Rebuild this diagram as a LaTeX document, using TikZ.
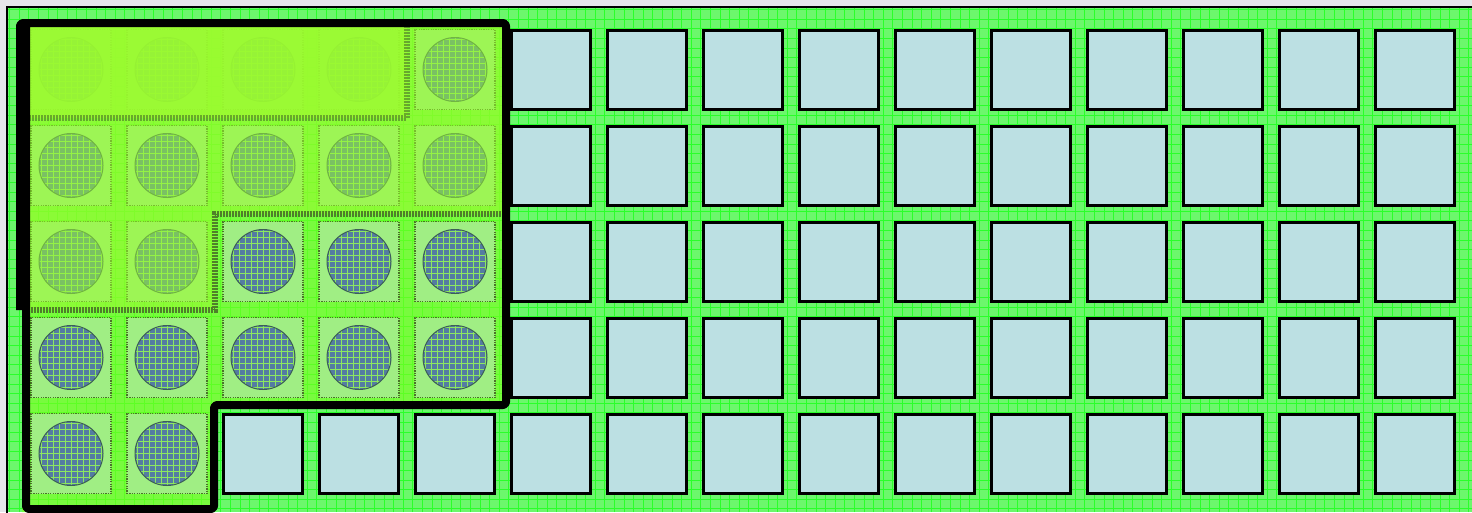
\documentclass[tikz,border=0pt]{standalone}
\usepackage{xcolor}
\usepackage{tikz}
\usetikzlibrary{calc}
\definecolor{cPage}{HTML}{E6E6EA}
\definecolor{cBoardF}{HTML}{6CF76C}
\definecolor{cBoardG}{HTML}{2AFF2A}
\definecolor{cCellF}{HTML}{BCE0E3}
\definecolor{cZoneF}{HTML}{80FF20}
\definecolor{cHiF}{HTML}{A0EE84}
\definecolor{cHiL}{HTML}{4A7328}
\definecolor{cDiscF}{HTML}{547CA2}
\definecolor{cDiscL}{HTML}{3C5E58}
\definecolor{cDiscG}{HTML}{8CE860}
\definecolor{cLayF}{HTML}{9BFB30}
\tikzset{
  cellbox/.style={rectangle,draw=black,fill=cCellF,line width=3pt,
      inner sep=0pt,minimum size=79pt},
  hicell/.style={rectangle,draw=cHiL,fill=cHiF,line width=1.4pt,
      dash pattern=on 1.2pt off 1.2pt,inner sep=0pt,minimum size=80pt},
  disc/.style={circle,draw=cDiscL,fill=cDiscF,line width=1pt,inner sep=0pt,
      minimum size=64pt,
      path picture={\draw[cDiscG,line width=0.8pt,step=6pt,solid]
        (path picture bounding box.south west) grid
        (path picture bounding box.north east);}},
  layer/.style={fill=cLayF},
  layedge/.style={draw=cHiL,line width=6pt,dash pattern=on 1.5pt off 1.5pt},
  zoneline/.style={draw=black,line width=8pt,rounded corners=3pt,line join=round},
}

\begin{document}
\begin{tikzpicture}[x=1pt,y=-1pt]
  \useasboundingbox (0,0) rectangle (1472,512);
  \fill[cPage] (0,0) rectangle (1472,512);

  % board
  \fill[cBoardF] (7,7) rectangle (1472,512);
  \draw[cBoardG,line width=0.8pt,step=9.6pt] (7,7) grid (1472,512);
  \draw[black,line width=2pt] (7,7) rectangle (1490,530);

  % selected zone
  \fill[cZoneF,fill opacity=0.6] (22,23) -- (506,23) -- (506,405) -- (215,405)
    -- (215,512) -- (22,512) -- cycle;

  % cells
  \foreach \i in {0,...,14}
    \foreach \j in {0,...,4}{
      \pgfmathtruncatemacro{\inzone}{((\i<5)&&(\j<4))||((\i<2)&&(\j==4))}
      \ifnum\inzone=1
        \node[hicell] (c\i-\j) at ({71+96*\i},{69.5+96*\j}) {};
        \node[disc] (d\i-\j) at (c\i-\j) {};
      \else
        \node[cellbox] (c\i-\j) at ({71+96*\i},{69.5+96*\j}) {};
      \fi
    }

  % second layer
  \fill[layer,fill opacity=0.55] (22,23) -- (506,23) -- (506,213.5) -- (215,213.5)
    -- (215,309.5) -- (22,309.5) -- cycle;
  \draw[layedge,draw opacity=0.9] (22,309.5) -- (215,309.5) -- (215,213.5) -- (506,213.5);

  % third layer
  \fill[layer,fill opacity=0.88] (22,23) -- (407,23) -- (407,117.5) -- (22,117.5) -- cycle;
  \draw[layedge,draw opacity=0.6] (26,117.5) -- (407,117.5) -- (407,23);

  % zone outline
  \draw[zoneline] (20,310) -- (20,23) -- (506,23) -- (506,405) -- (214,405)
    -- (214,509) -- (26,509) -- (26,23);
\end{tikzpicture}
\end{document}
